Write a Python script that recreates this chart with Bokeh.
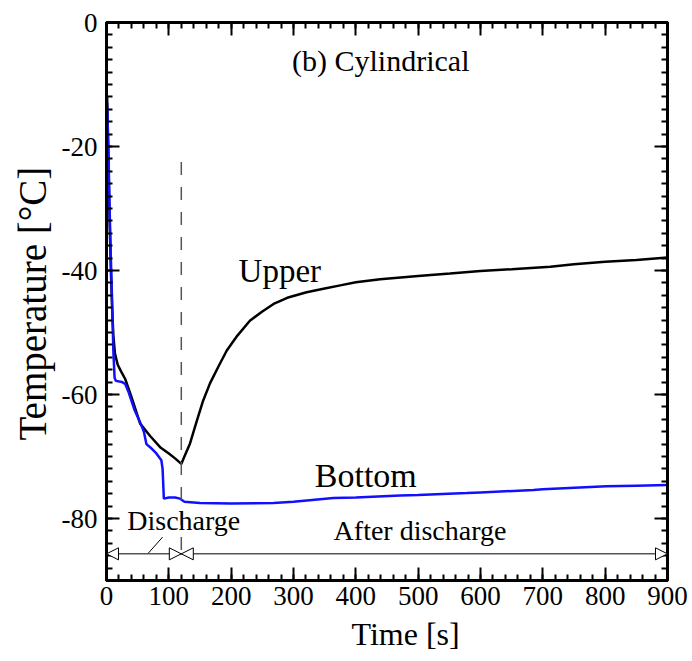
from bokeh.plotting import figure
from bokeh.models import Range1d, LinearAxis, FixedTicker, Arrow, NormalHead, CustomJSTickFormatter, Title
from bokeh.core.properties import value
from bokeh.embed import file_html
from bokeh.resources import INLINE

# ---- data ----
upper_t = [1, 3, 5, 7, 9, 11, 13.6, 18, 24, 30, 40, 54, 70, 86, 100, 110, 120,
           125, 134, 145, 155, 166, 180, 193, 210, 230, 250, 268, 290, 321, 350,
           375, 400, 439, 500, 551, 600, 650, 712, 750, 800, 850, 900]
upper_T = [-12, -22, -32, -40, -46, -50.5, -53.4, -55.2, -56.4, -57.5, -60.4, -64.7,
           -66.7, -68.5, -69.5, -70.3, -71.2, -70.0, -67.9, -64.2, -61.0, -58.2,
           -55.4, -52.9, -50.5, -48.1, -46.6, -45.4, -44.4, -43.5, -42.9, -42.4,
           -41.9, -41.4, -40.9, -40.5, -40.1, -39.8, -39.4, -39.0, -38.6, -38.3, -37.9]

bottom_t = [1, 3, 5, 7, 9, 11, 13, 15, 25, 30, 35, 45, 54, 60, 64, 70, 80, 88, 90,
            92, 100, 110, 118, 125, 150, 200, 268, 300, 364, 400, 471, 500, 578,
            600, 685, 700, 802, 850, 900]
bottom_T = [-13, -20, -30, -38, -45, -53, -57.3, -57.8, -58.0, -58.3, -59.5, -62.5,
            -64.5, -66.0, -68.0, -68.5, -69.5, -70.6, -72.0, -76.8, -76.6, -76.6,
            -76.8, -77.3, -77.5, -77.6, -77.5, -77.3, -76.7, -76.6, -76.3, -76.2,
            -75.9, -75.8, -75.4, -75.3, -74.8, -74.7, -74.6]

x_ticks = [0, 100, 200, 300, 400, 500, 600, 700, 800, 900]
y_ticks = [0, -20, -40, -60, -80]
y_tick_labels = ["0", "-20", "-40", "-60", "-80"]
x_minor = list(range(0, 901, 20))
y_minor = list(range(-90, 1, 2))

discharge_end = 120
arrow_level = -85.7

FONT = value("Liberation Serif")

p = figure(frame_width=561, frame_height=558, min_border_left=106, min_border_right=25,
           min_border_top=22, min_border_bottom=81,
           x_range=Range1d(0, 900), y_range=Range1d(-90, 0),
           output_backend="svg", toolbar_location=None, tools="")
p.grid.visible = False
p.outline_line_color = "black"
p.outline_line_width = 3
p.background_fill_color = "white"
p.border_fill_color = "white"


def style_axis(ax, ticks, minor, show_labels):
    ax.ticker = FixedTicker(ticks=ticks, minor_ticks=minor)
    ax.axis_line_width = 3
    ax.axis_line_color = "black"
    ax.major_tick_in = 13
    ax.major_tick_out = 0
    ax.minor_tick_in = 6
    ax.minor_tick_out = 0
    ax.major_tick_line_width = 2
    ax.minor_tick_line_width = 2
    ax.major_tick_line_color = "black"
    ax.minor_tick_line_color = "black"
    ax.major_label_text_font = "Liberation Serif"
    ax.major_label_text_font_size = "27px"
    ax.major_label_text_color = "black"
    if not show_labels:
        ax.formatter = CustomJSTickFormatter(code="return ''")
        ax.major_label_text_font_size = "1px"
        ax.major_label_standoff = 0


xa = p.xaxis[0]
ya = p.yaxis[0]
style_axis(xa, x_ticks, x_minor, True)
style_axis(ya, y_ticks, y_minor, True)
xa.major_label_standoff = 6
ya.major_label_standoff = 9
ya.major_label_overrides = {t: s for t, s in zip(y_ticks, y_tick_labels)}

top = LinearAxis()
style_axis(top, x_ticks, x_minor, False)
p.add_layout(top, "above")
right = LinearAxis()
style_axis(right, y_ticks, y_minor, False)
p.add_layout(right, "right")

# axis titles (slightly off-centre, as in the reference)
p.add_layout(Title(text="Time [s]", align="left", offset=245, standoff=13,
                   text_font="Liberation Serif", text_font_size="32px",
                   text_font_style="normal", text_color="black"), "below")
p.add_layout(Title(text="Temperature [°C]", align="left", offset=140, standoff=9,
                   text_font="Liberation Serif", text_font_size="39px",
                   text_font_style="normal", text_color="black"), "left")

# curves
p.line(upper_t, upper_T, line_color="black", line_width=2.5)
p.line(bottom_t, bottom_T, line_color="#1010ff", line_width=2.5)

# dashed end-of-discharge line
p.line([discharge_end, discharge_end], [-22.5, arrow_level], line_color="#555555",
       line_width=1.5, line_dash="13 12")

# phase arrows
p.line([0, 900], [arrow_level, arrow_level], line_color="black", line_width=1)
for xs, xe in [(0, discharge_end), (discharge_end, 900)]:
    p.add_layout(Arrow(x_start=xe, y_start=arrow_level, x_end=xs, y_end=arrow_level,
                       line_alpha=0,
                       start=NormalHead(size=12, fill_color="white", line_color="black", line_width=1),
                       end=NormalHead(size=12, fill_color="white", line_color="black", line_width=1)))
p.line([67, 90], [-85.6, -83.0], line_color="black", line_width=1)

# labels
p.text(x=[440], y=[-6.2], text=["(b) Cylindrical"], text_font=FONT, text_font_size="30px",
       text_align="center", text_baseline="alphabetic", text_color="black")
p.text(x=[278], y=[-40.1], text=["Upper"], text_font=FONT, text_font_size="33px",
       text_align="center", text_baseline="alphabetic", text_color="black")
p.text(x=[416], y=[-73.1], text=["Bottom"], text_font=FONT, text_font_size="34px",
       text_align="center", text_baseline="alphabetic", text_color="black")
p.text(x=[124], y=[-80.4], text=["Discharge"], text_font=FONT, text_font_size="28px",
       text_align="center", text_baseline="alphabetic", text_color="black")
p.text(x=[503], y=[-82.0], text=["After discharge"], text_font=FONT, text_font_size="28px",
       text_align="center", text_baseline="alphabetic", text_color="black")

open("out.html", "w").write(file_html(p, INLINE))
